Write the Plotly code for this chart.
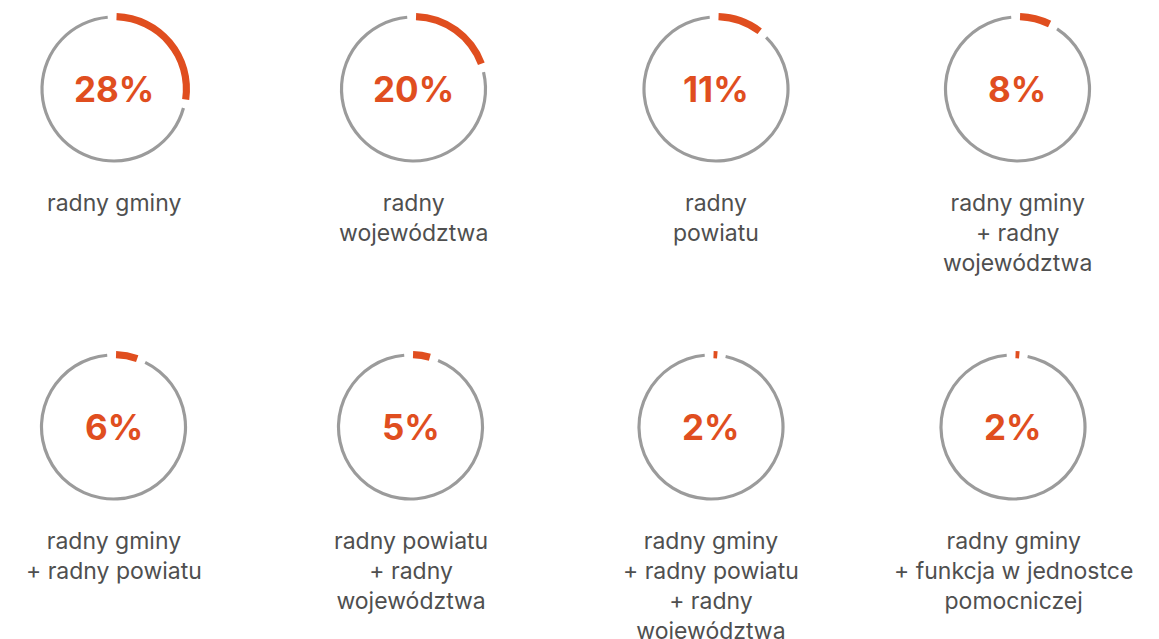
import plotly.graph_objects as go

W, H = 1159, 639
OFF = 8  # default page margin of the html body

values = [28, 20, 11, 8, 6, 5, 2, 2]
pct_labels = ["28%", "20%", "11%", "8%", "6%", "5%", "2%", "2%"]
categories = [
    "radny gminy",
    "radny<br>województwa",
    "radny<br>powiatu",
    "radny gminy<br>+ radny<br>województwa",
    "radny gminy<br>+ radny powiatu",
    "radny powiatu<br>+ radny<br>województwa",
    "radny gminy<br>+ radny powiatu<br>+ radny<br>województwa",
    "radny gminy<br>+ funkcja w jednostce<br>pomocniczej",
]

ORANGE = "#E04E1F"
GRAY = "#9B9B9B"
TEXT = "#4F4F4F"
CLEAR = "rgba(0,0,0,0)"

centers = [(114, 89), (413.5, 89), (716, 89), (1017.5, 89),
           (113.5, 427), (410.5, 427), (711, 427), (1013, 427)]

R_OR, HOLE_OR = 76, 0.906
R_GR, HOLE_GR = 73.6, 0.957


def dom(cx, cy, r):
    cx, cy = cx - OFF, cy - OFF
    return dict(x=[(cx - r) / W, (cx + r) / W],
                y=[1 - (cy + r) / H, 1 - (cy - r) / H])


fig = go.Figure()
annotations = []
for v, pl, cat, (cx, cy) in zip(values, pct_labels, categories, centers):
    deg = v * 3.6
    # gray ring (thin)
    g_start = deg + 4.5
    g_span = 360 - 5 - g_start
    fig.add_trace(go.Pie(
        values=[g_span, 360 - g_span], sort=False, direction="clockwise",
        rotation=g_start, hole=HOLE_GR, domain=dom(cx, cy, R_GR),
        marker=dict(colors=[GRAY, CLEAR], line=dict(width=0)),
        textinfo="none", hoverinfo="skip", showlegend=False))
    # orange arc (thick)
    o_span = max(deg - 4.5, 3)
    fig.add_trace(go.Pie(
        values=[o_span, 360 - o_span], sort=False, direction="clockwise",
        rotation=2, hole=HOLE_OR, domain=dom(cx, cy, R_OR),
        marker=dict(colors=[ORANGE, CLEAR], line=dict(width=0)),
        textinfo="none", hoverinfo="skip", showlegend=False))
    annotations.append(dict(
        x=(cx - OFF) / W, y=1 - (cy - OFF) / H, xref="paper", yref="paper",
        text="<b>" + pl + "</b>", showarrow=False,
        xanchor="center", yanchor="middle",
        font=dict(family="Inter, Open Sans, sans-serif", size=35, color=ORANGE)))
    annotations.append(dict(
        x=(cx - OFF) / W, y=1 - (cy - OFF + 98) / H, xref="paper", yref="paper",
        text=cat, showarrow=False, xanchor="center", yanchor="top",
        align="center",
        font=dict(family="Inter, Open Sans, sans-serif", size=23, color=TEXT)))

fig.update_layout(
    width=W, height=H, margin=dict(l=0, r=0, t=0, b=0),
    paper_bgcolor="white", plot_bgcolor="white",
    annotations=annotations)

fig.write_html("out.html")
